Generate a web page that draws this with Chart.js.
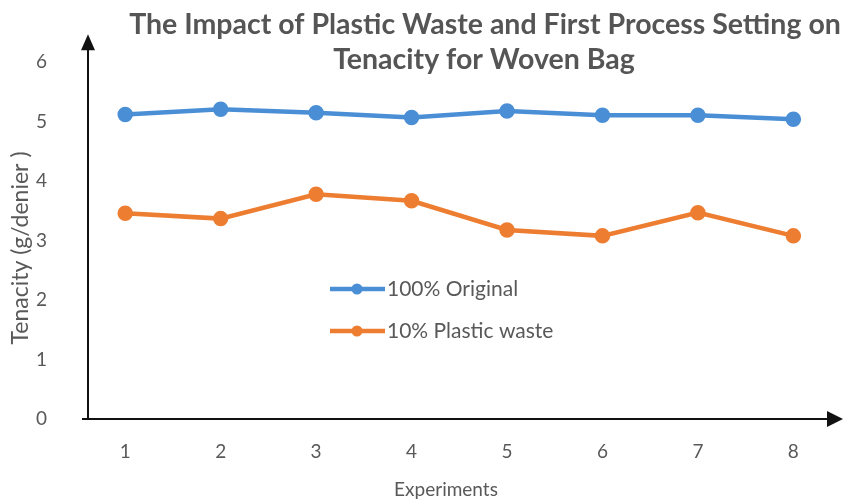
<!DOCTYPE html>
<html>
<head>
<meta charset="utf-8">
<script src="https://cdn.jsdelivr.net/npm/chart.js@4"></script>
<style>
  html, body { margin: 0; padding: 0; background: #ffffff; }
  canvas { display: block; }
</style>
</head>
<body>
<canvas id="chart" width="857" height="503"></canvas>
<script>
// Tenacity measurements per experiment run
const experiments = [1, 2, 3, 4, 5, 6, 7, 8];
const original = [5.12, 5.21, 5.15, 5.07, 5.18, 5.11, 5.11, 5.04];
const plasticWaste = [3.46, 3.37, 3.78, 3.67, 3.18, 3.08, 3.47, 3.08];
const yTicks = [0, 1, 2, 3, 4, 5, 6];
const seriesNames = ['100% Original', '10% Plastic waste'];
const titleLines = ['The Impact of Plastic Waste and First Process Setting on', 'Tenacity for Woven Bag'];
const xTitle = 'Experiments';
const yTitle = 'Tenacity (g/denier )';

const FONT = 'Lato, "Open Sans", sans-serif';
const TEXT = '#595959';
const BLUE = '#4a8fd6';
const ORANGE = '#ed7d31';
const Y_ARROW_TIP = 6.47;   // value where the vertical arrow ends

// Axis lines with arrowheads, drawn beneath the series
const arrowAxes = {
  id: 'arrowAxes',
  beforeDatasetsDraw(chart) {
    const { ctx, chartArea: a } = chart;
    const top = chart.scales.y.getPixelForValue(Y_ARROW_TIP);
    ctx.save();
    ctx.strokeStyle = '#111';
    ctx.fillStyle = '#111';
    ctx.lineWidth = 2;
    // vertical axis
    ctx.beginPath();
    ctx.moveTo(a.left, a.bottom);
    ctx.lineTo(a.left, top + 12);
    ctx.stroke();
    ctx.beginPath();
    ctx.moveTo(a.left, top);
    ctx.lineTo(a.left - 7, top + 16);
    ctx.lineTo(a.left + 7, top + 16);
    ctx.closePath();
    ctx.fill();
    // horizontal axis
    ctx.beginPath();
    ctx.moveTo(a.left - 6, a.bottom);
    ctx.lineTo(a.right - 12, a.bottom);
    ctx.stroke();
    ctx.beginPath();
    ctx.moveTo(a.right, a.bottom);
    ctx.lineTo(a.right - 16, a.bottom - 8);
    ctx.lineTo(a.right - 16, a.bottom + 8);
    ctx.closePath();
    ctx.fill();
    ctx.restore();
  }
};

// Title, axis titles and the in-plot legend
const annotations = {
  id: 'annotations',
  afterDraw(chart) {
    const { ctx } = chart;
    ctx.save();
    ctx.fillStyle = '#555555';
    ctx.textAlign = 'center';
    ctx.textBaseline = 'middle';
    ctx.font = 'bold 28.5px ' + FONT;
    ctx.fillText(titleLines[0], 485, 25);
    ctx.fillText(titleLines[1], 484, 60);

    ctx.fillStyle = TEXT;
    ctx.font = '19px ' + FONT;
    ctx.fillText(xTitle, 446, 490);

    ctx.save();
    ctx.translate(21, 248);
    ctx.rotate(-Math.PI / 2);
    ctx.font = '23px ' + FONT;
    ctx.fillText(yTitle, 0, 0);
    ctx.restore();

    // legend entries
    const rows = [289, 331];
    chart.data.datasets.forEach((ds, i) => {
      const y = rows[i];
      ctx.strokeStyle = ds.borderColor;
      ctx.fillStyle = ds.borderColor;
      ctx.lineWidth = 4.5;
      ctx.beginPath();
      ctx.moveTo(330, y);
      ctx.lineTo(385, y);
      ctx.stroke();
      ctx.beginPath();
      ctx.arc(357, y, 5.5, 0, Math.PI * 2);
      ctx.fill();
      ctx.fillStyle = TEXT;
      ctx.textAlign = 'left';
      ctx.font = '21px ' + FONT;
      ctx.fillText(ds.label, 387, y);
    });
    ctx.restore();
  }
};

const toPoints = vals => experiments.map((x, i) => ({ x, y: vals[i] }));

new Chart(document.getElementById('chart'), {
  type: 'line',
  data: {
    datasets: [
      {
        label: seriesNames[0],
        data: toPoints(original),
        borderColor: BLUE,
        backgroundColor: BLUE,
        borderWidth: 4.5,
        pointRadius: 5.5,
        pointBackgroundColor: BLUE,
        pointBorderColor: BLUE,
        tension: 0
      },
      {
        label: seriesNames[1],
        data: toPoints(plasticWaste),
        borderColor: ORANGE,
        backgroundColor: ORANGE,
        borderWidth: 4.5,
        pointRadius: 5.5,
        pointBackgroundColor: ORANGE,
        pointBorderColor: ORANGE,
        tension: 0
      }
    ]
  },
  options: {
    responsive: false,
    animation: false,
    devicePixelRatio: 1,
    layout: { autoPadding: false, padding: { left: 0, right: 14, top: 5, bottom: 0 } },
    plugins: { legend: { display: false }, title: { display: false }, tooltip: { enabled: false } },
    scales: {
      x: {
        type: 'linear',
        min: 0.61,
        max: 8.52,
        afterBuildTicks: s => { s.ticks = experiments.map(v => ({ value: v })); },
        afterFit: s => { s.height = 84; },
        grid: { display: false },
        border: { display: false },
        ticks: { color: TEXT, font: { family: FONT, size: 19 }, padding: 13, maxRotation: 0 }
      },
      y: {
        min: 0,
        max: 6.3,
        afterBuildTicks: s => { s.ticks = yTicks.map(v => ({ value: v })); },
        afterFit: s => { s.width = 88; },
        grid: { display: false },
        border: { display: false },
        ticks: { color: TEXT, font: { family: FONT, size: 19 }, padding: 33 }
      }
    }
  },
  plugins: [arrowAxes, annotations]
});
</script>
</body>
</html>
